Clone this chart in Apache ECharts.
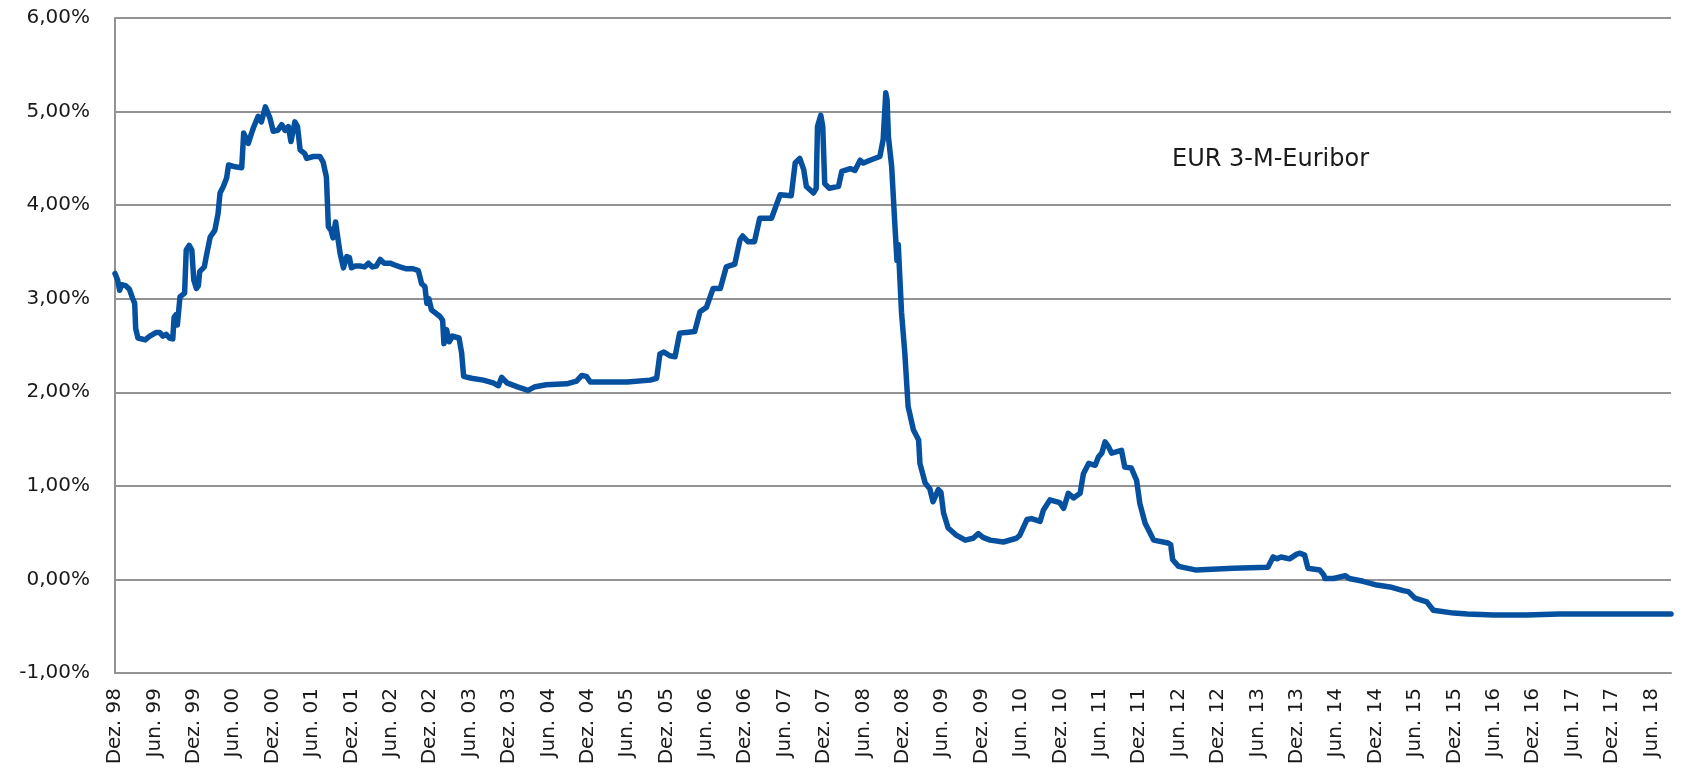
<!DOCTYPE html>
<html>
<head>
<meta charset="utf-8">
<script src="https://cdn.jsdelivr.net/npm/echarts@6/dist/echarts.min.js"></script>
<style>
html,body{margin:0;padding:0;background:#fff;}
#chart{width:1686px;height:769px;}
</style>
</head>
<body>
<div id="chart"></div>
<script>
// x tick labels (every 6 months starting Dez. 98)
const tickLabels = ["Dez. 98","Jun. 99","Dez. 99","Jun. 00","Dez. 00","Jun. 01","Dez. 01","Jun. 02","Dez. 02","Jun. 03",
  "Dez. 03","Jun. 04","Dez. 04","Jun. 05","Dez. 05","Jun. 06","Dez. 06","Jun. 07","Dez. 07","Jun. 08",
  "Dez. 08","Jun. 09","Dez. 09","Jun. 10","Dez. 10","Jun. 11","Dez. 11","Jun. 12","Dez. 12","Jun. 13",
  "Dez. 13","Jun. 14","Dez. 14","Jun. 15","Dez. 15","Jun. 16","Dez. 16","Jun. 17","Dez. 17","Jun. 18"];

// time of each observation, in months since Dez. 98
const months = [0,0.4,0.7,1.0,1.6,2.2,2.7,3.0,3.15,3.5,4.6,5.3,6.3,6.8,7.3,7.8,8.3,8.8,9.0,9.3,9.5,9.9,10.6,10.85,11.3,11.7,12.0,12.4,12.7,12.9,
  13.6,13.9,14.5,15.2,15.7,16.0,16.5,17.0,17.3,18.3,19.3,19.6,20.3,20.8,21.1,21.8,22.3,22.9,23.6,24.1,24.8,25.4,25.9,26.4,26.8,27.1,27.4,27.8,28.2,28.9,
  29.2,30.2,31.2,31.7,32.2,32.5,32.9,33.2,33.6,33.9,34.3,34.8,35.3,35.7,36.0,36.6,37.3,38.0,38.6,39.2,39.8,40.4,41.0,41.9,42.6,43.4,44.4,45.4,46.2,46.7,
  47.2,47.5,47.8,48.2,49.5,49.9,50.1,50.5,50.9,51.4,52.4,52.8,53.1,54.3,56.1,57.6,58.4,58.9,59.7,61.2,62.9,64.0,65.7,68.8,70.3,71.1,71.8,72.4,74.0,78.0,
  81.5,82.5,83.0,83.6,84.5,85.3,86.0,87.0,88.3,89.1,90.1,91.1,92.2,93.1,94.4,95.2,95.6,96.4,97.4,98.2,100.0,101.3,103.0,103.6,104.3,104.9,105.3,106.4,106.8,107.0,
  107.5,107.8,108.1,108.8,110.2,110.7,112.0,112.7,113.5,114.0,115.0,116.5,117.0,117.4,117.6,117.8,118.3,118.8,119.1,119.3,119.8,120.3,120.8,121.6,122.4,122.6,123.4,124.1,124.6,125.4,
  125.8,126.2,126.9,128.2,129.5,130.7,131.5,132.2,133.3,135.3,137.3,137.8,138.9,139.6,140.9,141.4,142.4,143.9,144.5,145.2,146.0,147.0,147.5,148.3,149.3,149.8,150.3,150.8,151.3,151.8,
  153.3,153.8,154.8,155.6,156.1,156.9,157.7,158.2,160.4,160.8,161.1,162.0,164.7,170.3,175.6,176.4,177.0,177.6,178.9,180.0,180.5,181.2,181.7,183.5,184.1,184.3,185.6,187.4,188.0,190.1,
  192.2,194.2,196.2,197.0,198.0,199.8,200.8,203.9,206.0,210.0,215.0,220.0,225.0,230.0,233.0,237.0];

// EUR 3-M-Euribor in percent
const euribor = [3.27,3.20,3.09,3.15,3.14,3.10,3.00,2.95,2.68,2.58,2.56,2.60,2.64,2.64,2.60,2.62,2.58,2.57,2.80,2.83,2.72,3.02,3.06,3.52,3.57,3.52,3.20,3.11,3.14,3.29,
  3.34,3.45,3.66,3.73,3.91,4.13,4.20,4.29,4.43,4.41,4.40,4.77,4.66,4.77,4.83,4.95,4.89,5.05,4.93,4.79,4.80,4.86,4.80,4.84,4.68,4.68,4.89,4.84,4.59,4.55,
  4.50,4.52,4.52,4.46,4.30,3.77,3.73,3.65,3.82,3.67,3.48,3.33,3.45,3.44,3.33,3.35,3.35,3.34,3.38,3.34,3.35,3.42,3.38,3.38,3.36,3.34,3.32,3.32,3.30,3.16,
  3.13,2.95,3.00,2.88,2.81,2.77,2.52,2.67,2.54,2.60,2.58,2.42,2.17,2.15,2.13,2.10,2.07,2.16,2.10,2.06,2.02,2.06,2.08,2.09,2.12,2.18,2.17,2.11,2.11,2.11,
  2.13,2.15,2.41,2.43,2.39,2.38,2.63,2.64,2.65,2.86,2.91,3.11,3.11,3.34,3.37,3.63,3.67,3.61,3.61,3.86,3.86,4.11,4.10,4.45,4.50,4.38,4.20,4.13,4.18,4.84,
  4.96,4.84,4.23,4.18,4.20,4.36,4.39,4.37,4.48,4.45,4.48,4.52,4.70,5.20,5.12,4.73,4.41,3.77,3.41,3.58,2.85,2.42,1.85,1.60,1.49,1.24,1.03,0.97,0.83,0.96,
  0.93,0.71,0.55,0.47,0.42,0.44,0.49,0.45,0.42,0.40,0.44,0.47,0.64,0.65,0.62,0.74,0.85,0.82,0.76,0.92,0.87,0.92,1.13,1.24,1.22,1.31,1.35,1.47,1.42,1.35,
  1.38,1.20,1.19,1.06,0.81,0.60,0.49,0.42,0.39,0.37,0.21,0.14,0.10,0.12,0.13,0.24,0.22,0.24,0.22,0.27,0.28,0.26,0.12,0.10,0.05,0.01,0.01,0.04,0.01,-0.02,
  -0.06,-0.08,-0.12,-0.13,-0.20,-0.24,-0.33,-0.36,-0.37,-0.38,-0.38,-0.37,-0.37,-0.37,-0.37,-0.37];

const seriesName = "EUR 3-M-Euribor";
const yTicks = {min: -1, max: 6, step: 1};
const lastMonth = 237;

const data = months.map((m, i) => [m, euribor[i]]);

const chart = echarts.init(document.getElementById('chart'), null, {renderer: 'canvas'});
const font = 'DejaVu Sans';
chart.setOption({
  animation: false,
  backgroundColor: '#ffffff',
  title: {
    text: seriesName,
    left: 1167,
    top: 143,
    textStyle: {fontFamily: font, fontSize: 24, fontWeight: 'normal', color: '#1a1a1a'}
  },
  grid: {left: 115, right: 15, top: 18, bottom: 96, containLabel: false},
  xAxis: {
    type: 'value',
    min: 0,
    max: lastMonth,
    interval: 6,
    axisLine: {show: true, onZero: false, lineStyle: {color: '#939393', width: 2}},
    axisTick: {show: false},
    splitLine: {show: false},
    axisLabel: {
      rotate: 90,
      margin: 15,
      showMaxLabel: false,
      fontFamily: font,
      fontSize: 20,
      color: '#1a1a1a',
      formatter: function (v) {
        if (v % 6 !== 0) return '';
        const l = tickLabels[v / 6];
        return l === undefined ? '' : l;
      }
    }
  },
  yAxis: {
    type: 'value',
    min: yTicks.min,
    max: yTicks.max,
    interval: yTicks.step,
    axisLine: {show: true, lineStyle: {color: '#939393', width: 2}},
    axisTick: {show: false},
    splitLine: {show: true, lineStyle: {color: '#939393', width: 2}},
    axisLabel: {
      margin: 25,
      fontFamily: font,
      fontSize: 20,
      color: '#1a1a1a',
      formatter: function (v) { return v.toFixed(2).replace('.', ',') + '%'; }
    }
  },
  series: [{
    name: seriesName,
    type: 'line',
    data: data,
    showSymbol: false,
    smooth: false,
    lineStyle: {color: '#0650a0', width: 5.5, join: 'round', cap: 'round'},
    z: 5
  }]
});
</script>
</body>
</html>
